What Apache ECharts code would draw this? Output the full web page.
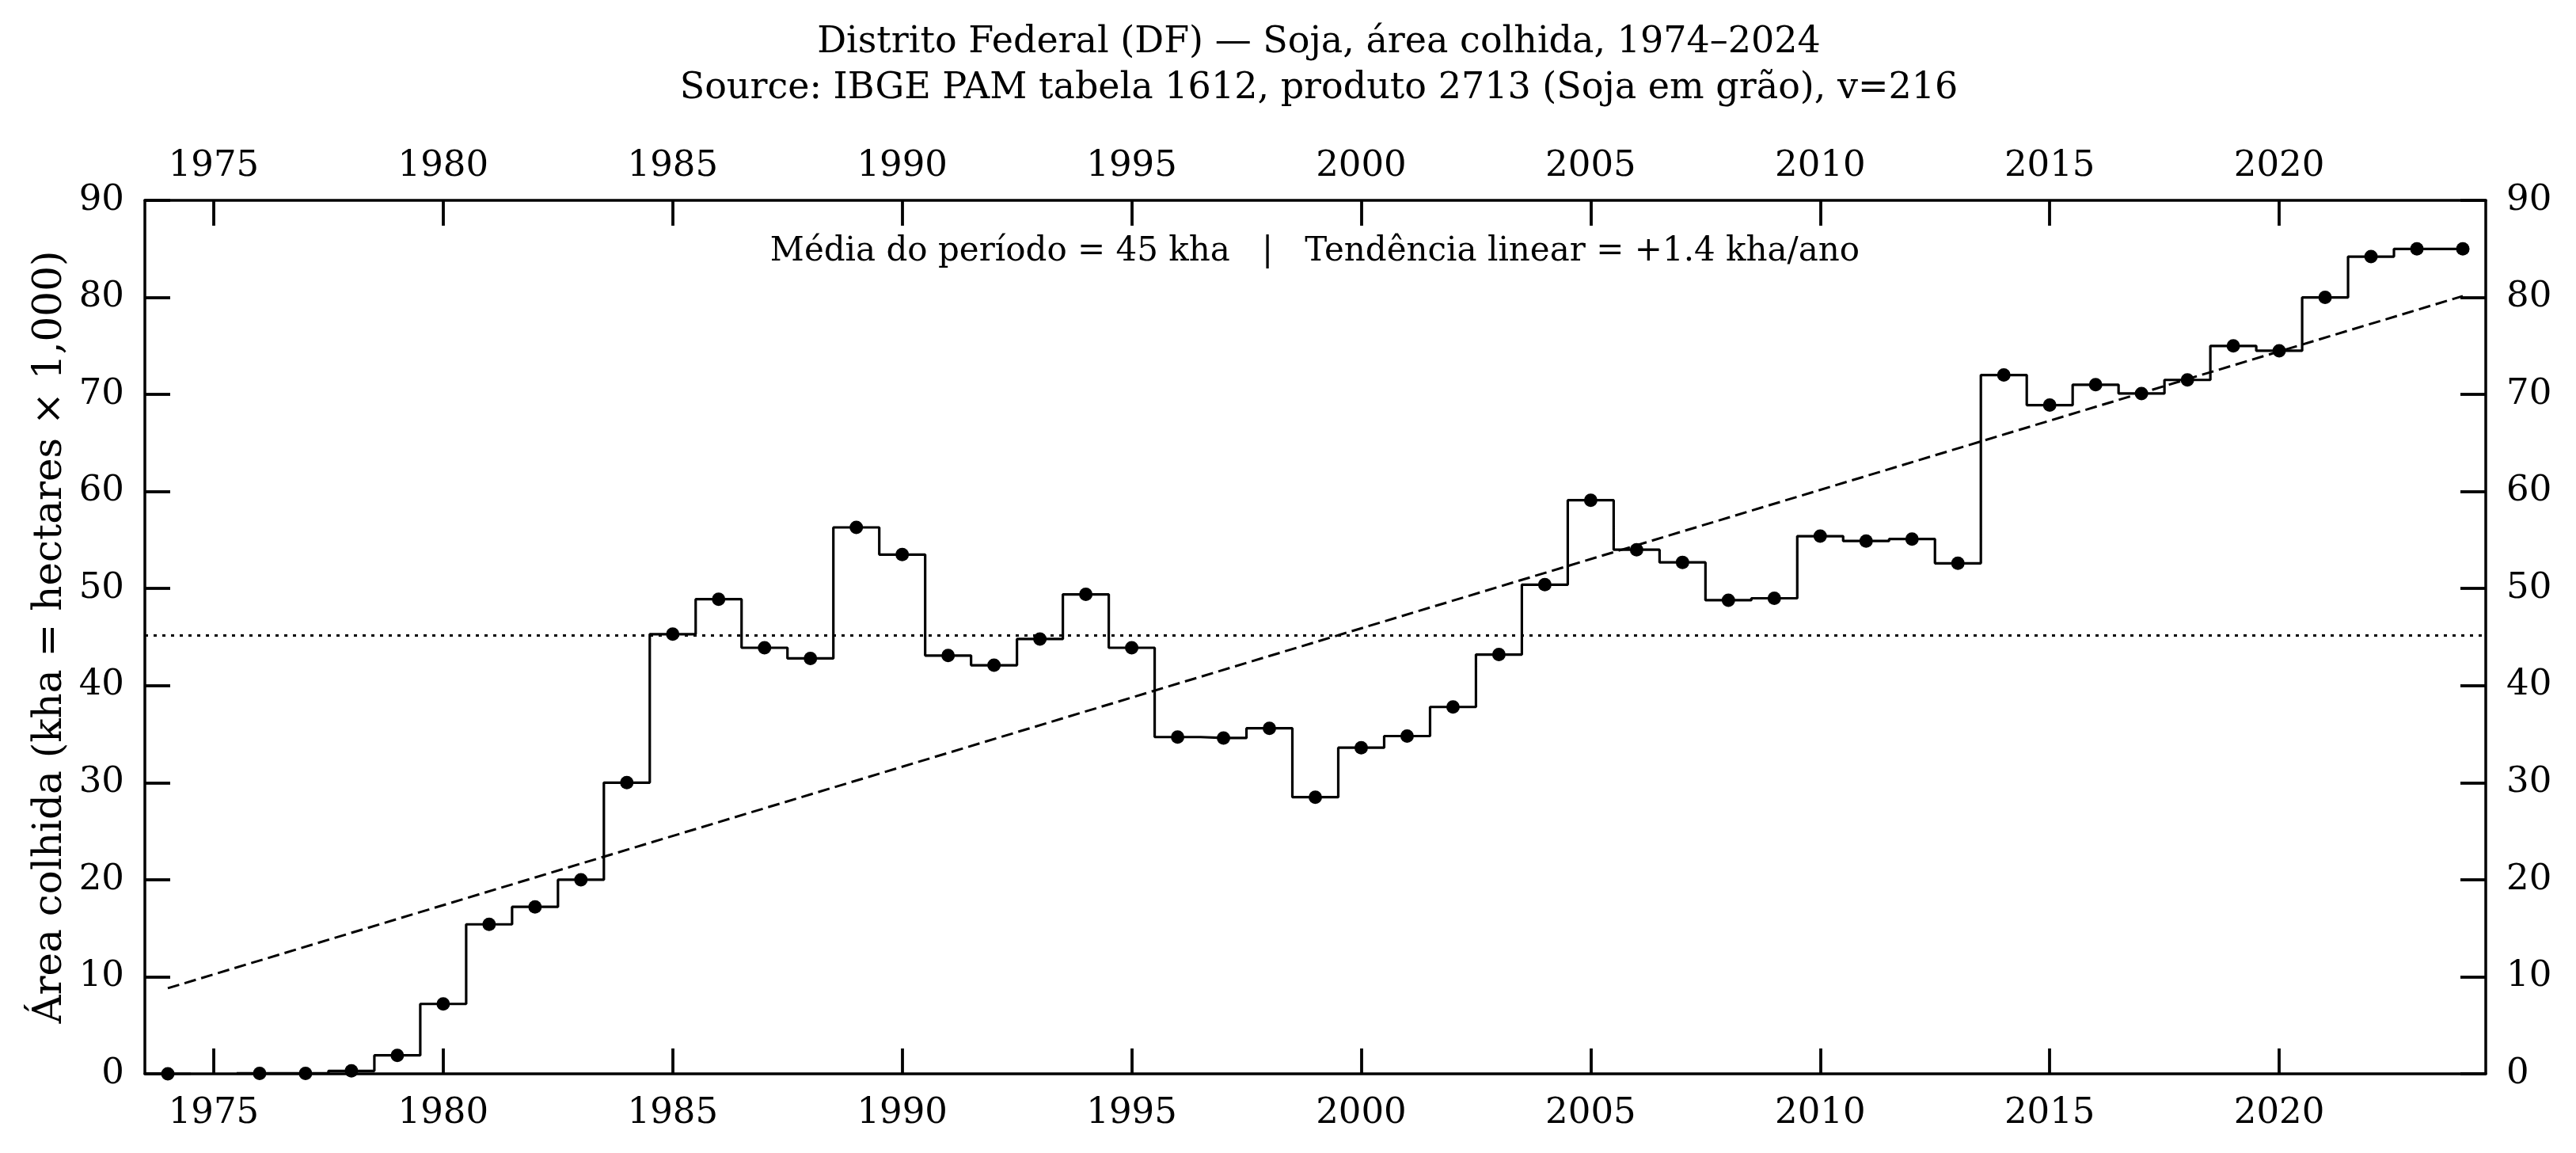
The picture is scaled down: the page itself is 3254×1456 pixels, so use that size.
<!DOCTYPE html>
<html>
<head>
<meta charset="utf-8">
<title>DF - Soja, área colhida</title>
<script src="https://cdn.jsdelivr.net/npm/echarts@6/dist/echarts.min.js"></script>
<style>
  html, body { margin: 0; padding: 0; background: #fff; }
  #chart { width: 3254px; height: 1456px; }
</style>
</head>
<body>
<div id="chart"></div>
<script>
  // anos da série (1975 sem dado)
  const years = [1974, 1975, 1976, 1977, 1978, 1979, 1980, 1981, 1982, 1983,
    1984, 1985, 1986, 1987, 1988, 1989, 1990, 1991, 1992, 1993,
    1994, 1995, 1996, 1997, 1998, 1999, 2000, 2001, 2002, 2003,
    2004, 2005, 2006, 2007, 2008, 2009, 2010, 2011, 2012, 2013,
    2014, 2015, 2016, 2017, 2018, 2019, 2020, 2021, 2022, 2023, 2024];
  // área colhida, mil hectares
  const areaKha = [0, null, 0.05, 0.05, 0.3, 1.9, 7.2, 15.4, 17.2, 20.0,
    30.0, 45.3, 48.9, 43.9, 42.8, 56.3, 53.5, 43.1, 42.1, 44.8,
    49.4, 43.9, 34.7, 34.6, 35.6, 28.5, 33.6, 34.8, 37.8, 43.2,
    50.4, 59.1, 54.0, 52.7, 48.8, 49.0, 55.4, 54.9, 55.1, 52.6,
    72.0, 68.9, 71.0, 70.1, 71.5, 75.0, 74.5, 80.0, 84.2, 85.0, 85.0];
  const xTicks = [1975, 1980, 1985, 1990, 1995, 2000, 2005, 2010, 2015, 2020];
  const yTicks = [0, 10, 20, 30, 40, 50, 60, 70, 80, 90];

  const FONT = 'DejaVu Serif';

  // média e tendência linear (mínimos quadrados) sobre os anos com dado
  let n = 0, sx = 0, sy = 0, sxx = 0, sxy = 0;
  years.forEach((yr, i) => {
    const v = areaKha[i];
    if (v === null) return;
    n++; sx += yr; sy += v; sxx += yr * yr; sxy += yr * v;
  });
  const mean = sy / n;
  const slope = (n * sxy - sx * sy) / (n * sxx - sx * sx);
  const intercept = (sy - slope * sx) / n;
  const firstYear = years[0], lastYear = years[years.length - 1];
  const trendData = [firstYear, lastYear].map(yr => [yr, intercept + slope * yr]);

  const stepData = years.map((yr, i) => [yr, areaKha[i] === null ? '-' : areaKha[i]]);

  const xMin = firstYear - 0.5, xMax = lastYear + 0.5;

  const xAxisBase = function (pos) {
    return {
      type: 'value',
      position: pos,
      min: xMin,
      max: xMax,
      splitLine: { show: false },
      axisLine: { show: true, onZero: false, lineStyle: { color: '#000', width: 3.5 } },
      axisTick: { show: true, inside: true, length: 32, lineStyle: { color: '#000', width: 3.8 }, customValues: xTicks },
      axisLabel: {
        show: true, customValues: xTicks, margin: pos === 'top' ? 20 : 28,
        color: '#000', fontFamily: FONT, fontSize: 45,
        formatter: v => String(v)
      }
    };
  };

  const yAxisBase = function (pos) {
    return {
      type: 'value',
      position: pos,
      min: 0,
      max: 90,
      interval: 10,
      splitLine: { show: false },
      axisLine: { show: true, onZero: false, lineStyle: { color: '#000', width: 3.5 } },
      axisTick: { show: true, inside: true, length: 32, lineStyle: { color: '#000', width: 3.8 } },
      axisLabel: {
        show: true, margin: 26,
        color: '#000', fontFamily: FONT, fontSize: 45,
        formatter: v => (yTicks.indexOf(v) >= 0 ? String(v) : '')
      }
    };
  };

  const yLeft = yAxisBase('left');
  yLeft.name = 'Área colhida (kha = hectares × 1,000)';
  yLeft.nameLocation = 'middle';
  yLeft.nameGap = 92;
  yLeft.nameTextStyle = { color: '#000', fontFamily: FONT, fontSize: 50 };
  const yRight = yAxisBase('right');

  const chart = echarts.init(document.getElementById('chart'));
  chart.setOption({
    backgroundColor: '#fff',
    animation: false,
    title: {
      text: 'Distrito Federal (DF) — Soja, área colhida, 1974–2024\nSource: IBGE PAM tabela 1612, produto 2713 (Soja em grão), v=216',
      left: 1661,
      top: 20,
      textAlign: 'center',
      textStyle: { color: '#000', fontFamily: FONT, fontSize: 46, fontWeight: 'normal', lineHeight: 58 }
    },
    grid: { left: 183, right: 114, top: 253, bottom: 100, outerBoundsMode: 'none' },
    xAxis: [xAxisBase('bottom'), xAxisBase('top')],
    yAxis: [yLeft, yRight],
    graphic: [{
      type: 'text',
      x: 1661,
      y: 318,
      style: {
        text: 'Média do período = ' + mean.toFixed(0) + ' kha   |   Tendência linear = +' + slope.toFixed(1) + ' kha/ano',
        fill: '#000',
        font: '42px "DejaVu Serif"',
        textAlign: 'center',
        textVerticalAlign: 'middle'
      }
    }],
    series: [
      {
        name: 'tendencia',
        type: 'line',
        xAxisIndex: 0,
        yAxisIndex: 0,
        data: trendData,
        symbol: 'none',
        lineStyle: { color: '#000', width: 3, type: [15, 7] },
        markLine: {
          silent: true,
          symbol: 'none',
          label: { show: false },
          lineStyle: { color: '#000', width: 3, type: [4, 7] },
          data: [{ yAxis: mean }]
        },
        z: 2
      },
      {
        name: 'area',
        type: 'line',
        xAxisIndex: 0,
        yAxisIndex: 0,
        step: 'middle',
        data: stepData,
        connectNulls: false,
        symbol: 'circle',
        symbolSize: 17,
        showAllSymbol: true,
        itemStyle: { color: '#000' },
        lineStyle: { color: '#000', width: 3.2 },
        z: 3
      }
    ]
  });
</script>
</body>
</html>
